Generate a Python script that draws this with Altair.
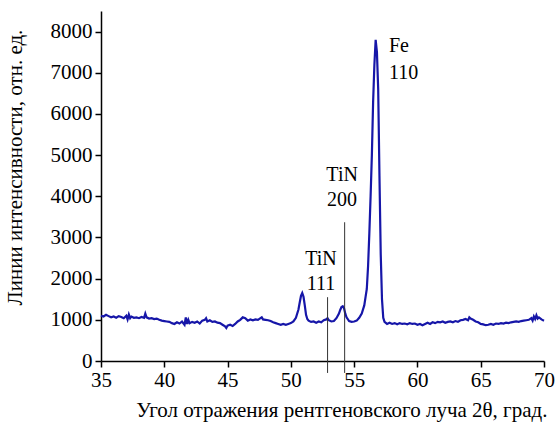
import altair as alt
import pandas as pd

# Spectrum (2theta in degrees, intensity in relative units)
two_theta = [35.0, 35.2, 35.4, 35.6, 35.8, 36.0, 36.2, 36.4, 36.6, 36.8, 37.0, 37.1, 37.2, 37.3, 37.4,
             37.6, 37.8, 38.0, 38.2, 38.4, 38.5, 38.6, 38.8, 39.0, 39.2, 39.4, 39.6, 39.8, 40.0, 40.2,
             40.4, 40.6, 40.8, 41.0, 41.2, 41.4, 41.6, 41.7, 41.8, 41.9, 42.0, 42.2, 42.4, 42.6, 42.8,
             43.0, 43.2, 43.3, 43.4, 43.6, 43.8, 44.0, 44.2, 44.4, 44.6, 44.8, 44.9, 45.0, 45.2, 45.4,
             45.6, 45.8, 46.0, 46.2, 46.4, 46.6, 46.8, 47.0, 47.2, 47.4, 47.6, 47.7, 47.8, 48.0, 48.2,
             48.4, 48.6, 48.8, 49.0, 49.2, 49.4, 49.6, 49.8, 50.0, 50.2, 50.4, 50.6, 50.7, 50.8, 50.9,
             51.0, 51.1, 51.2, 51.3, 51.4, 51.6, 51.8, 52.0, 52.2, 52.4, 52.6, 52.8, 52.9, 53.0, 53.2,
             53.4, 53.6, 53.8, 53.9, 54.0, 54.1, 54.2, 54.3, 54.4, 54.6, 54.8, 55.0, 55.2, 55.4, 55.6,
             55.8, 55.9, 56.0, 56.1, 56.2, 56.3, 56.4, 56.5, 56.6, 56.7, 56.8, 56.9, 57.0, 57.1, 57.2,
             57.3, 57.4, 57.6, 57.8, 58.0, 58.2, 58.4, 58.6, 58.8, 59.0, 59.2, 59.4, 59.6, 59.8, 60.0,
             60.2, 60.4, 60.6, 60.8, 61.0, 61.2, 61.4, 61.6, 61.8, 62.0, 62.2, 62.4, 62.6, 62.8, 63.0,
             63.2, 63.4, 63.6, 63.8, 64.0, 64.1, 64.2, 64.4, 64.6, 64.8, 65.0, 65.2, 65.4, 65.6, 65.8,
             66.0, 66.2, 66.4, 66.6, 66.8, 67.0, 67.2, 67.4, 67.6, 67.8, 68.0, 68.2, 68.4, 68.6, 68.8,
             69.0, 69.1, 69.2, 69.3, 69.4, 69.5, 69.6, 69.8, 70.0]
intensity = [1100, 1080, 1120, 1090, 1060, 1080, 1050, 1090, 1070, 1040, 1100, 1010, 1130, 1040, 1080,
             1050, 1060, 1040, 1070, 1050, 1150, 1060, 1030, 1040, 1020, 1030, 1000, 980, 970, 960,
             950, 920, 900, 940, 910, 960, 880, 1060, 900, 1000, 920, 950, 930, 960, 910,
             980, 1000, 1040, 960, 990, 950, 960, 930, 920, 880, 840, 800, 860, 880, 850,
             900, 960, 1000, 1060, 1040, 980, 1010, 990, 1010, 1000, 1040, 1060, 1010, 1000, 990,
             970, 940, 920, 900, 880, 900, 880, 900, 920, 960, 1050, 1250, 1420, 1580, 1650,
             1560, 1350, 1120, 1020, 980, 950, 960, 930, 960, 940, 990, 1010, 1040, 990, 960,
             970, 1040, 1150, 1240, 1310, 1330, 1280, 1150, 1060, 970, 950, 960, 980, 1050, 1150,
             1350, 1550, 1750, 2300, 3100, 4000, 5000, 6300, 7200, 7800, 7500, 6600, 4500, 2600, 1500,
             1050, 950, 900, 930, 900, 920, 890, 920, 900, 910, 890, 920, 900, 910, 880,
             900, 870, 900, 930, 900, 940, 920, 950, 940, 960, 930, 950, 960, 940, 970,
             950, 990, 1000, 1020, 990, 1060, 1030, 1000, 960, 940, 900, 890, 870, 880, 900,
             880, 910, 900, 920, 910, 930, 920, 940, 950, 960, 950, 970, 980, 990, 1000,
             1040, 980, 1080, 1020, 1110, 1030, 1060, 1010, 980]

# Reference lines (TiN 111, TiN 200)
ref_pos = [52.9, 54.25]
ref_top = [1550, 3370]
ref_bottom = [-290, -290]

# Peak labels
tin_text = ["TiN\n111", "TiN\n200"]
tin_x = [52.38, 54.05]
tin_y = [2330, 4370]
fe_text = ["Fe\n110"]
fe_x = [57.75]
fe_y = [7500]

# Axis ticks (major + minor)
x_ticks = [35, 37.5, 40, 42.5, 45, 47.5, 50, 52.5, 55, 57.5, 60, 62.5, 65, 67.5, 70]
y_ticks = [0, 500, 1000, 1500, 2000, 2500, 3000, 3500, 4000, 4500, 5000, 5500, 6000, 6500, 7000,
           7500, 8000]

FONT = "Liberation Serif, Times New Roman, Times, serif"

spec_df = pd.DataFrame({"t": two_theta, "i": intensity})
ref_df = pd.DataFrame({"t": ref_pos, "top": ref_top, "bot": ref_bottom})
tin_df = pd.DataFrame({"txt": tin_text, "t": tin_x, "i": tin_y})
fe_df = pd.DataFrame({"txt": fe_text, "t": fe_x, "i": fe_y})

xscale = alt.Scale(domain=[35, 70], nice=False)
yscale = alt.Scale(domain=[0, 8500], nice=False, zero=False)

x_major_test = "datum.value % 5 === 0"
y_major_test = "datum.value % 1000 === 0"

line = alt.Chart(spec_df).mark_line(color="#1616a8", strokeWidth=2.2).encode(
    x=alt.X("t:Q", scale=xscale,
            axis=alt.Axis(values=x_ticks, orient="bottom", grid=False, format="d",
                          tickSize={"condition": {"test": x_major_test, "value": 6}, "value": 3},
                          tickWidth=1.5,
                          domainWidth=1.5, domainColor="black", tickColor="black",
                          labelExpr="datum.value % 5 === 0 ? datum.label : ''",
                          labelFont=FONT, labelFontSize=21, labelColor="black", labelPadding=2,
                          labelFlush=False, labelOverlap=False,
                          title="Угол отражения рентгеновского луча 2θ, град.",
                          titleFont=FONT, titleFontSize=21, titleFontWeight="normal",
                          titleColor="black", titleAlign="right", titleAnchor="end",
                          titleX=446, titleY=55, titleBaseline="alphabetic")),
    y=alt.Y("i:Q", scale=yscale,
            axis=alt.Axis(values=y_ticks, orient="left", grid=False, format="d",
                          tickSize={"condition": {"test": y_major_test, "value": 6}, "value": 3},
                          tickWidth=1.5,
                          domainWidth=1.5, domainColor="black", tickColor="black",
                          labelExpr="datum.value % 1000 === 0 ? datum.label : ''",
                          labelFont=FONT, labelFontSize=21, labelColor="black", labelPadding=3,
                          labelFlush=False, labelOverlap=False,
                          title="Линии интенсивности, отн. ед.",
                          titleFont=FONT, titleFontSize=21, titleFontWeight="normal",
                          titleColor="black", titleAngle=-90, titleAlign="center",
                          titleBaseline="middle", titleX=-86, titleY=156)),
)

rules = alt.Chart(ref_df).mark_rule(color="#333333", strokeWidth=1, clip=False).encode(
    x=alt.X("t:Q", scale=xscale),
    y=alt.Y("bot:Q", scale=yscale),
    y2="top:Q",
)

tin_labels = alt.Chart(tin_df).mark_text(font=FONT, fontSize=20, color="black", lineBreak="\n",
                                         lineHeight=25, baseline="alphabetic", align="center").encode(
    x=alt.X("t:Q", scale=xscale),
    y=alt.Y("i:Q", scale=yscale),
    text="txt:N",
)

fe_labels = alt.Chart(fe_df).mark_text(font=FONT, fontSize=20, color="black", lineBreak="\n",
                                       lineHeight=27, baseline="alphabetic", align="left").encode(
    x=alt.X("t:Q", scale=xscale),
    y=alt.Y("i:Q", scale=yscale),
    text="txt:N",
)

chart = alt.layer(line, rules, tin_labels, fe_labels).properties(
    width=443, height=350,
    autosize=alt.AutoSizeParams(type="none"),
    padding={"left": 101, "top": 11, "right": 13, "bottom": 65},
    background="white",
).configure_view(stroke=None)

chart.save("out.html", embed_options={"renderer": "svg", "actions": False})
